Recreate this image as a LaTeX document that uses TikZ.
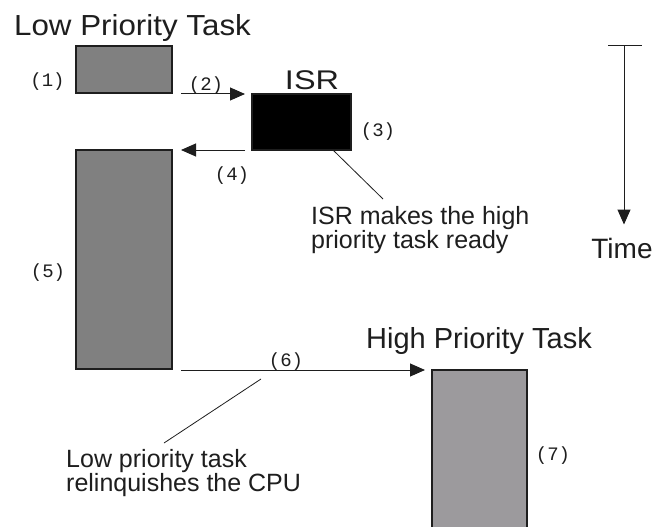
\documentclass[tikz,border=0pt]{standalone}
\usepackage{graphicx}
\usepackage{fontspec}
\setmainfont{Liberation Sans}
\newfontfamily\numfont{Liberation Mono}
\usetikzlibrary{arrows.meta,calc}
\definecolor{lowgray}{HTML}{808080}
\definecolor{highgray}{HTML}{9C9A9D}
\definecolor{ink}{HTML}{1E1E1E}
\tikzset{
  taskbox/.style={draw=ink, line width=1.3pt, outer sep=0pt, inner sep=0pt},
  flow/.style={draw=ink, line width=1pt, -{Triangle[length=15pt,width=13pt]}},
  callout/.style={draw=ink, line width=0.8pt},
  stepnum/.style={font=\numfont\fontsize{19}{19}\selectfont, text=ink, inner sep=0pt},
  heading/.style={font=\fontsize{29}{29}\selectfont, text=ink, inner sep=0pt, anchor=base},
  note/.style={font=\fontsize{25}{23}\selectfont, text=ink, inner sep=0pt, align=left, anchor=north west},
}
\begin{document}
\begin{tikzpicture}[x=1pt,y=-1pt]
\useasboundingbox[fill=white] (0,0) rectangle (654,527);

% headings
\node[heading] (lowhead) at (132.5,36) {\scalebox{1.08}[1]{Low Priority Task}};
\node[heading] (highhead) at (479,348) {High Priority Task};
\node[heading, font=\fontsize{27}{27}\selectfont] (isrhead) at (312,90) {\scalebox{1.2}[1]{ISR}};
\node[heading, font=\fontsize{28}{28}\selectfont] (timehead) at (622,258) {Time};

% task bars
\node[taskbox, fill=lowgray, minimum width=96, minimum height=47] (t1) at (124,69.5) {};
\node[taskbox, fill=black, minimum width=99, minimum height=56] (isr) at (301.5,122) {};
\node[taskbox, fill=lowgray, minimum width=96, minimum height=219] (t5) at (124,259.5) {};
\node[taskbox, fill=highgray, minimum width=95, minimum height=162] (t7) at (479.5,451) {};

% control transfers
\draw[flow] ($(t1.east |- isr.north)+(9,0)$) -- ($(isr.north west)+(-7,0)$);
\draw[flow] ($(isr.south west)+(-7,0)$) -- ($(t5.north east)+(9,0)$);
\draw[flow] ($(t5.east |- t7.north)+(9,0)$) -- ($(t7.north west)+(-7,0)$);

% time axis
\coordinate (tstart) at (624,46);
\draw[ink, line width=1pt] ($(tstart)+(-16,0)$) -- ($(tstart)+(18,0)$);
\draw[flow] (tstart) -- ($(timehead.north -| tstart)+(0,-13)$);

% step numbers
\node[stepnum] (n1) at (47.5,81.5) {(1)};
\node[stepnum] (n2) at (206,86) {(2)};
\node[stepnum] (n3) at (378,132) {(3)};
\node[stepnum] (n4) at (232,176) {(4)};
\node[stepnum] (n5) at (48,273) {(5)};
\node[stepnum] (n6) at (286,362) {(6)};
\node[stepnum] (n7) at (553,456) {(7)};

% explanatory notes
\node[note] (isrnote) at (311,206) {ISR makes the high\\priority task ready};
\coordinate (isrtip) at (383,199);
\draw[callout] ($(isr.south)+(31.5,0)$) -- (isrtip);

\node[note] (lownote) at (66,449) {Low priority task\\relinquishes the CPU};
\coordinate (relinq) at (261,379);
\coordinate (lowtip) at (164,443);
\draw[callout] (relinq) -- (lowtip);
\end{tikzpicture}
\end{document}
